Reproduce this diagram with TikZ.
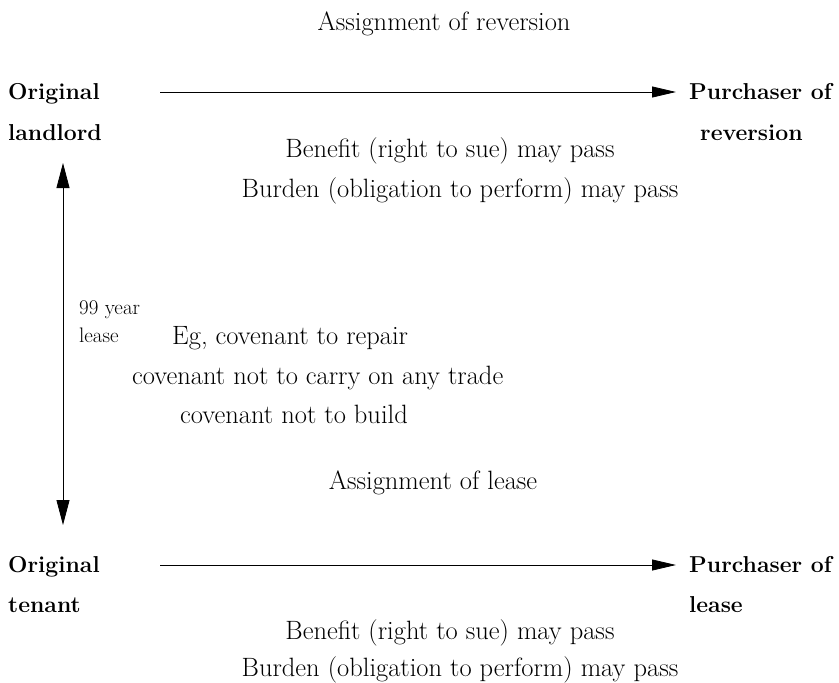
\documentclass[tikz,border=0pt]{standalone}
\usetikzlibrary{arrows.meta}
\begin{document}
\begin{tikzpicture}[x=1pt,y=-1pt,
  lbl/.style={font=\fontsize{23}{27}\bfseries\selectfont, inner sep=0pt, anchor=base west},
  txt/.style={font=\fontsize{26.5}{30}\selectfont, inner sep=0pt, anchor=base},
  smalltxt/.style={font=\fontsize{21}{24}\selectfont, inner sep=0pt, anchor=base west},
  conn/.style={line width=0.8pt, -{Triangle[length=24pt,width=11pt]}},
  vconn/.style={line width=0.8pt, {Triangle[length=25pt,width=13pt]}-{Triangle[length=25pt,width=13pt]}},
  ]
\useasboundingbox (0,0) rectangle (839,683);
% top row
\node[txt] (title1) at (444,30) {Assignment of reversion};
\node[lbl] (ol1) at (8,99) {Original};
\node[lbl] (ol2) at (8,140) {landlord};
\node[lbl] (pr1) at (689,99) {Purchaser of};
\node[lbl] (pr2) at (700,140) {reversion};
\coordinate (a1s) at (160,92);
\coordinate (a1e) at (676,92);
\draw[conn] (a1s) -- (a1e);
\node[txt] (ben1) at (450,157) {Benefit (right to sue) may pass};
\node[txt] (bur1) at (460,197) {Burden (obligation to perform) may pass};
% vertical
\coordinate (vs) at (63,163);
\coordinate (ve) at (63,525);
\draw[vconn] (vs) -- (ve);
\node[smalltxt] (yr1) at (79,314) {99 year};
\node[smalltxt] (yr2) at (79,342) {lease};
\node[txt, anchor=base west] (eg1) at (172,344) {Eg, covenant to repair};
\node[txt, anchor=base west] (eg2) at (132,384) {covenant not to carry on any trade};
\node[txt, anchor=base west] (eg3) at (180,423) {covenant not to build};
\node[txt] (title2) at (433,489) {Assignment of lease};
% bottom row
\node[lbl] (ot1) at (8,572) {Original};
\node[lbl] (ot2) at (8,612) {tenant};
\node[lbl] (pl1) at (689,572) {Purchaser of};
\node[lbl] (pl2) at (689,612) {lease};
\coordinate (a2s) at (160,565);
\coordinate (a2e) at (676,565);
\draw[conn] (a2s) -- (a2e);
\node[txt] (ben2) at (450,639) {Benefit (right to sue) may pass};
\node[txt] (bur2) at (460,676) {Burden (obligation to perform) may pass};
\end{tikzpicture}
\end{document}
